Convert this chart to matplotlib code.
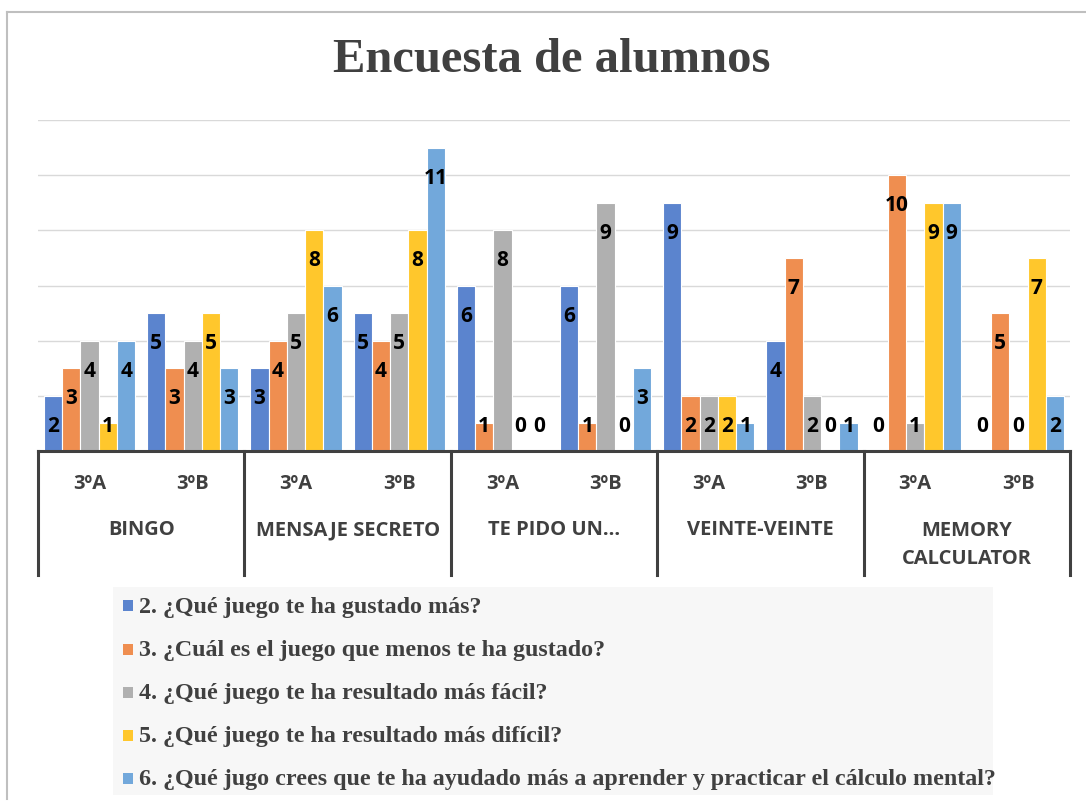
import matplotlib
matplotlib.use("Agg")
import matplotlib.pyplot as plt
import matplotlib.transforms as mtransforms
from matplotlib.patches import Rectangle
from matplotlib.lines import Line2D
import numpy as np

# ---- data ----
games = ["BINGO", "MENSAJE SECRETO", "TE PIDO UN...", "VEINTE-VEINTE", "MEMORY\nCALCULATOR"]
classes = ["3ºA", "3ºB"]
series_names = [
    "2. ¿Qué juego te ha gustado más?",
    "3. ¿Cuál es el juego que menos te ha gustado?",
    "4. ¿Qué juego te ha resultado más fácil?",
    "5. ¿Qué juego te ha resultado más difícil?",
    "6. ¿Qué jugo crees que te ha ayudado más a aprender y practicar el cálculo mental?",
]
q2 = [2, 5, 3, 5, 6, 6, 9, 4, 0, 0]
q3 = [3, 3, 4, 4, 1, 1, 2, 7, 10, 5]
q4 = [4, 4, 5, 5, 8, 9, 2, 2, 1, 0]
q5 = [1, 5, 8, 8, 0, 0, 2, 0, 9, 7]
q6 = [4, 3, 6, 11, 0, 3, 1, 1, 9, 2]
series = [q2, q3, q4, q5, q6]
colors = ["#5B84CE", "#EF8E50", "#B0B0B0", "#FFC72C", "#72A8DB"]

W, H = 1086, 803
fig = plt.figure(figsize=(W / 100, H / 100), dpi=100)

def fx(px):
    return px / W

def fy(py):
    return 1 - py / H

# outer border (top & left only visible)
fig.add_artist(Line2D([fx(7), fx(1086)], [fy(13), fy(13)], color="#BFBFBF", lw=1.5))
fig.add_artist(Line2D([fx(7), fx(7)], [fy(13), fy(800)], color="#BFBFBF", lw=1.5))

ax_left, ax_right, ax_top, ax_bot = 38, 1070, 121, 452
ax = fig.add_axes([fx(ax_left), fy(ax_bot), fx(ax_right - ax_left), (ax_bot - ax_top) / H])
ax.set_xlim(0, 10)
ax.set_ylim(0, 12)
for s in ["top", "right", "left"]:
    ax.spines[s].set_visible(False)
ax.spines["bottom"].set_color("#404040")
ax.spines["bottom"].set_linewidth(2.2)
ax.set_yticks([2, 4, 6, 8, 10, 12])
ax.yaxis.grid(True, color="#D9D9D9", lw=1)
ax.set_axisbelow(True)
ax.tick_params(left=False, labelleft=False, bottom=False, labelbottom=False)

n = len(q2)
x = np.arange(n) + 0.5
bw = 0.177
label_font = dict(family="Open Sans", weight="bold", size=15, color="black")
for j, (vals, c) in enumerate(zip(series, colors)):
    xs = x + (j - 2) * bw
    ax.bar(xs, vals, width=bw, color=c, edgecolor="white", linewidth=0.8, zorder=2)
    for xi, v in zip(xs, vals):
        ly = max(v - 1.07, 0.92)
        ax.text(xi, ly, str(v), ha="center", va="center", zorder=3, **label_font)

# category axis labels
trans = mtransforms.blended_transform_factory(ax.transData, fig.transFigure)
cat_font = dict(family="Open Sans", weight="bold", size=14.5, color="#404040")
for i in range(n):
    ax.text(x[i], fy(484), classes[i % 2], ha="center", va="center", transform=trans, **cat_font)
for g, name in enumerate(games):
    yc = 530 if "\n" not in name else 545
    ax.text(2 * g + 1, fy(yc), name, ha="center", va="center", transform=trans,
            linespacing=1.55, **cat_font)
for b in range(0, 11, 2):
    ax.add_line(Line2D([b, b], [fy(452), fy(576)], transform=trans, color="#404040",
                       lw=2.2, clip_on=False))

# title
fig.text(fx(552), fy(60), "Encuesta de alumnos", ha="center", va="center",
         family="Liberation Serif", weight="bold", size=35, color="#404040")

# legend
fig.add_artist(Rectangle((fx(113), fy(796)), fx(993 - 113), (796 - 588) / H,
                         facecolor="#F7F7F7", edgecolor="none"))
rows = [607, 651, 694, 737, 780]
for name, c, ry in zip(series_names, colors, rows):
    fig.add_artist(Rectangle((fx(123), fy(ry + 5)), fx(10), 11 / H,
                             facecolor=c, edgecolor="none"))
    fig.text(fx(139), fy(ry), name, ha="left", va="center",
             family="Liberation Serif", weight="bold", size=17.3, color="#404040")

fig.savefig("out.png", dpi=100, facecolor="white")
